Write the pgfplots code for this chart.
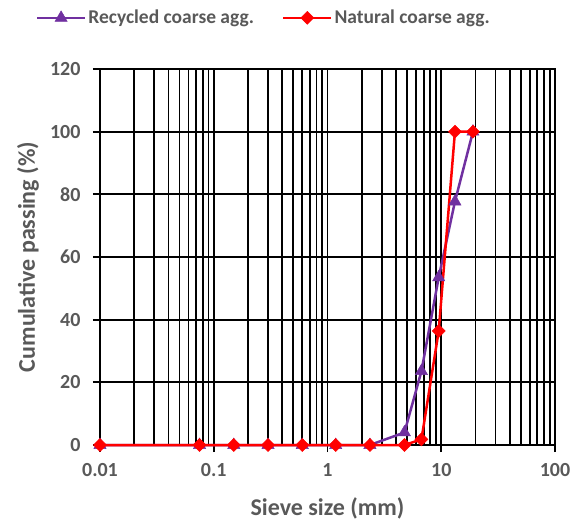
\documentclass[border=0pt]{standalone}
\usepackage{fontspec}
\setmainfont{Carlito}
\usepackage{pgfplots}
\pgfplotsset{compat=1.18}
\definecolor{txt}{HTML}{595959}
\definecolor{purp}{HTML}{7030A0}
\definecolor{rred}{HTML}{FF0000}
\begin{document}
\begin{tikzpicture}
\begin{axis}[
  scale only axis, width=455pt, height=376pt,
  xmode=log, log basis x=10,
  xmin=0.01, xmax=100, ymin=0, ymax=120,
  xtick={0.01,0.1,1,10,100},
  xticklabels={0.01,0.1,1,10,100},
  ytick={0,20,40,60,80,100,120},
  minor xtick={0.02,0.03,0.04,0.05,0.06,0.07,0.08,0.09,0.2,0.3,0.4,0.5,0.6,0.7,0.8,0.9,2,3,4,5,6,7,8,9,20,30,40,50,60,70,80,90},
  xmajorgrids, xminorgrids, ymajorgrids,
  major grid style={black, line width=1.8pt},
  minor grid style={black, line width=1.8pt},
  axis line style={black, line width=1.8pt},
  tick align=outside, xtick pos=bottom, ytick pos=left,
  major tick length=7pt, minor tick length=0pt,
  tick style={black, line width=1.8pt},
  /pgf/number format/assume math mode=true,
  tick label style={font=\bfseries\fontsize{20}{24}\selectfont, text=txt},
  xticklabel style={yshift=-8pt},
  yticklabel style={xshift=-9pt},
  xlabel={Sieve size (mm)}, ylabel={Cumulative passing (\%)},
  label style={font=\bfseries\fontsize{24}{28}\selectfont, text=txt},
  xlabel style={at={(axis description cs:0.5,-0.1676)}, anchor=center},
  ylabel style={at={(axis description cs:-0.158,0.5)}, anchor=center, rotate=0},
  legend style={at={(rel axis cs:0.36,1.136)}, anchor=center, draw=none, fill=none,
    font=\bfseries\fontsize{19.5}{23}\selectfont, text=txt,
    /tikz/every even column/.append style={column sep=26pt}},
  legend columns=2,
  legend image code/.code={\draw[#1, mark repeat=2, mark phase=2] plot coordinates {(0pt,0pt) (24pt,0pt) (48pt,0pt)};},
  clip=false,
]
\addplot[purp, line width=2.5pt, mark=triangle*, mark size=7pt, mark options={solid, line width=0.5pt}] coordinates {
(0.01,0) (0.075,0) (0.15,0) (0.3,0) (0.6,0) (1.18,0) (2.36,0) (4.75,4.0) (6.7,23.6) (9.5,53.5) (13.2,77.7) (19,100)
};
\addlegendentry{Recycled coarse agg.}
\addplot[rred, line width=2.5pt, mark=square*, mark size=4.6pt, mark options={solid, rotate=45, line width=0.5pt}] coordinates {
(0.01,0) (0.075,0) (0.15,0) (0.3,0) (0.6,0) (1.18,0) (2.36,0) (4.75,0) (6.7,1.8) (9.5,36.4) (13.2,100) (19,100)
};
\addlegendentry{Natural coarse agg.}
\end{axis}
\pgfresetboundingbox
\path ([shift={(-100pt,-75pt)}]current axis.south west) rectangle ([shift={(24pt,69pt)}]current axis.north east);
\end{tikzpicture}
\end{document}
